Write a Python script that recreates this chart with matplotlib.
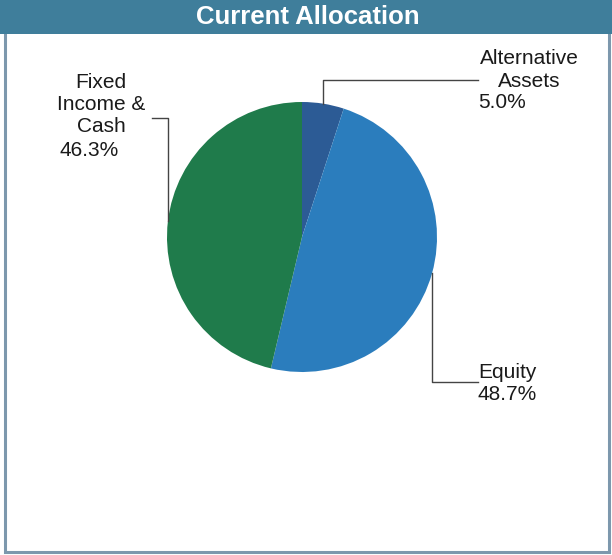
import matplotlib
matplotlib.use("Agg")
import matplotlib.pyplot as plt
from matplotlib.patches import Rectangle
import numpy as np

plt.rcParams['font.family'] = ['Liberation Sans', 'DejaVu Sans']

# allocation data
labels = ["Alternative\nAssets", "Equity", "Fixed\nIncome &\nCash"]
shares = [5.0, 48.7, 46.3]
colors = ["#2c5b95", "#2b7dbd", "#1f7b4b"]
title = "Current Allocation"

W, H = 612, 555
fig = plt.figure(figsize=(W / 100, H / 100), dpi=100)
ax = fig.add_axes([0, 0, 1, 1])

# frame and title bar
ax.add_patch(Rectangle((5, 3), 604, 540, fill=False, ec="#7d98ad", lw=2.2))
ax.add_patch(Rectangle((0, H - 34), W, 34, fc="#3f7e9b", ec="none"))
ax.text(308, H - 17, title, color="white", fontsize=18.5, fontweight="bold",
        ha="center", va="center")

cx, cy, r = 302, H - 237, 135
wedges, _ = ax.pie(shares, colors=colors, startangle=90, counterclock=False,
                   center=(cx, cy), radius=r, frame=True,
                   wedgeprops=dict(linewidth=0))
ax.set_xlim(0, W)
ax.set_ylim(0, H)
ax.set_aspect('equal')
ax.axis('off')

# mid-angle of each wedge, used to anchor the leader lines
mids = [np.deg2rad((w.theta1 + w.theta2) / 2) for w in wedges]

def leader(theta, y_end, x_end):
    x0 = cx + r * np.cos(theta)
    y0 = cy + r * np.sin(theta)
    ax.plot([x0, x0, x_end], [y0, y_end, y_end], color="#444444", lw=1.0)

fs = 15
pitch = 22.5

def label_block(text, x, y_top, ha):
    for i, line in enumerate(text.split("\n")):
        ax.text(x, H - (y_top + i * pitch), line, fontsize=fs, ha=ha,
                va="center", color="#1a1a1a")

# Alternative Assets
leader(mids[0], H - 80, 478)
label_block(labels[0], 529, 59, "center")
label_block(f"{shares[0]:.1f}%", 478, 103, "left")

# Equity
leader(mids[1], H - 382, 478)
label_block(labels[1], 478, 372, "left")
label_block(f"{shares[1]:.1f}%", 478, 395, "left")

# Fixed Income & Cash
leader(mids[2], H - 118, 152)
label_block(labels[2], 101, 82, "center")
label_block(f"{shares[2]:.1f}%", 89, 150, "center")

fig.savefig("out.png", dpi=100)
